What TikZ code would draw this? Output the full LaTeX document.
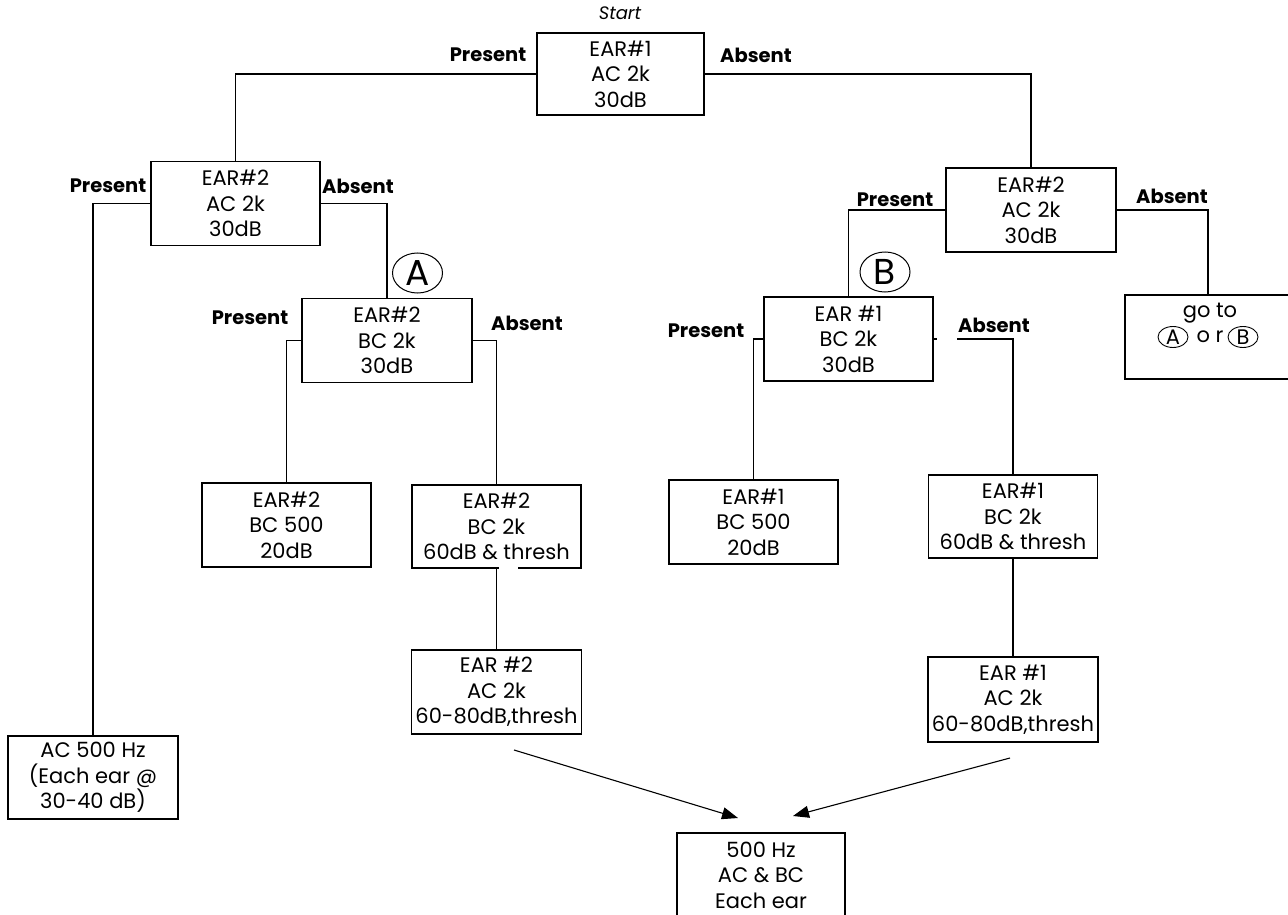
\documentclass[tikz,border=0pt]{standalone}
\usepackage{fontspec}
\setmainfont{Poppins}
\usetikzlibrary{arrows.meta,shapes.geometric}
\tikzset{
  box/.style={draw,rectangle,line width=1.1pt,minimum width=169pt,minimum height=84pt,
    align=center,inner sep=0pt,font=\fontsize{21}{25.5}\selectfont},
  lbl/.style={inner sep=0pt,font=\fontsize{19.5}{22}\selectfont\bfseries},
  conn/.style={line width=1.1pt},
  arr/.style={line width=1.1pt,-{Triangle[length=16pt,width=12pt]}},
  bigcirc/.style={draw,ellipse,line width=1pt,minimum width=50pt,minimum height=40pt,
    inner sep=0pt,font=\fontsize{36}{36}\selectfont},
  smallcirc/.style={draw,ellipse,line width=0.9pt,minimum width=30pt,minimum height=21pt,
    inner sep=0pt,font=\fontsize{21}{21}\selectfont},
}
\begin{document}
\begin{tikzpicture}[x=1pt,y=-1pt]
\useasboundingbox (0,0) rectangle (1288,915);
% boxes
\node[box,minimum width=167pt,minimum height=82pt] (start) at (620.5,74) {EAR\#1\\AC 2k\\30dB};
\node[box] (el2) at (235.5,203.5) {EAR\#2\\AC 2k\\30dB};
\node[box,minimum width=170pt] (er2) at (1031,210) {EAR\#2\\AC 2k\\30dB};
\node[box,minimum width=170pt] (elbc) at (387,340.5) {EAR\#2\\BC 2k\\30dB};
\node[box] (erbc) at (848.5,339) {EAR \#1\\BC 2k\\30dB};
\node[box,minimum width=166pt] (goto) at (1208,337) {};
\node[box] (l500) at (286.5,525) {EAR\#2\\BC 500\\20dB};
\node[box,minimum height=83pt] (l2k) at (496.5,526.5) {EAR\#2\\BC 2k\\60dB \& thresh};
\node[box] (r500) at (753.5,522) {EAR\#1\\BC 500\\20dB};
\node[box,minimum height=83pt] (r2k) at (1013,516.5) {EAR\#1\\BC 2k\\60dB \& thresh};
\node[box,minimum width=170pt] (lac) at (496.5,692) {EAR \#2\\AC 2k\\60-80dB,thresh};
\node[box,minimum width=170pt,minimum height=85pt] (rac) at (1013,699.5) {EAR \#1\\AC 2k\\60-80dB,thresh};
\node[box,minimum width=170pt,minimum height=83pt] (ac500) at (93,777.5) {AC 500 Hz\\(Each ear @\\30-40 dB)};
\node[box,minimum width=168pt,minimum height=84pt] (final) at (761,875) {500 Hz\\AC \& BC\\Each ear};
% gap in border
\fill[white] (499,566) rectangle (518,570);
% go to text
\node[inner sep=0pt,font=\fontsize{21}{21}\selectfont] (gototxt) at (1210,313) {go to};
\node[smallcirc] (ga) at (1173,337) {A};
\node[inner sep=0pt,font=\fontsize{21}{21}\selectfont] (gor) at (1210,337) {o r};
\node[smallcirc] (gb) at (1243,337) {B};
% start label
\node[inner sep=0pt,font=\fontsize{18}{18}\selectfont\itshape] (startlbl) at (620,13) {Start};
% circles
\node[bigcirc] (ca) at (417.5,273) {A};
\node[bigcirc] (cb) at (885,272) {B};
% connectors
\draw[conn] (start.west) -| (el2.north);
\draw[conn] (start.east) -| (er2.north);
\draw[conn] (el2.west) -| (ac500.north);
\draw[conn] (el2.east) -| (elbc.north);
\draw[conn] (elbc.west) -| (l500.north);
\draw[conn] (elbc.east) -| (l2k.north);
\draw[conn] (l2k.south) -- (lac.north);
\draw[conn] (er2.west) -| (erbc.north);
\draw[conn] (er2.east) -| (goto.north);
\draw[conn] (erbc.west) -| (r500.north);
\coordinate (tick) at (937,339);
\draw[conn] (erbc.east) -- (tick);
\coordinate (absgap) at (957,339);
\draw[conn] (absgap) -| (r2k.north);
\draw[conn] (r2k.south) -- (rac.north);
% arrows
\coordinate (la0) at (514,750);
\coordinate (la1) at (738,818);
\coordinate (ra0) at (1010,758);
\coordinate (ra1) at (793,816);
\draw[arr] (la0) -- (la1);
\draw[arr] (ra0) -- (ra1);
% labels
\node[lbl] (p0) at (488,55) {Present};
\node[lbl] (a0) at (756,55) {Absent};
\node[lbl] (p1) at (108,186) {Present};
\node[lbl] (a1) at (358,186) {Absent};
\node[lbl] (p2) at (250,318) {Present};
\node[lbl] (a2) at (527,323) {Absent};
\node[lbl] (p3) at (895,200) {Present};
\node[lbl] (a3) at (1172,196) {Absent};
\node[lbl] (p4) at (706,331) {Present};
\node[lbl] (a4) at (994,325) {Absent};
\end{tikzpicture}
\end{document}
